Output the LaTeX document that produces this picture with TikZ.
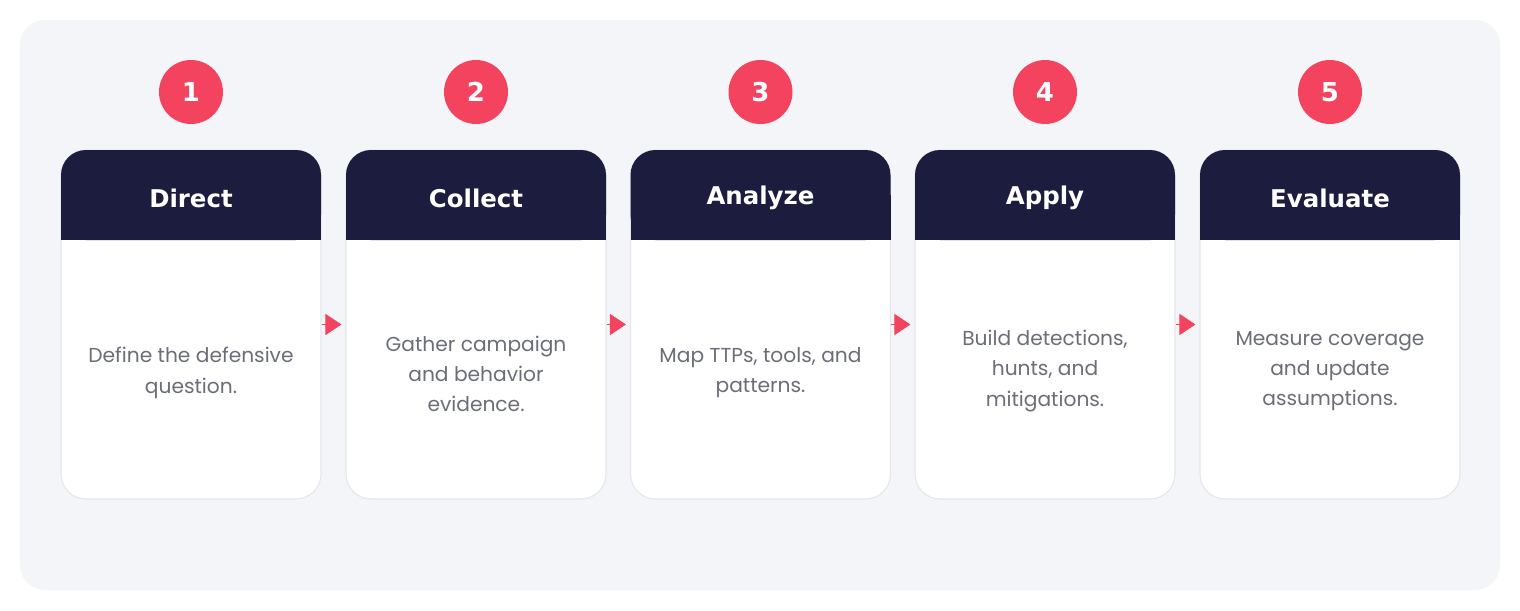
\documentclass[tikz,border=0pt]{standalone}
\usepackage{fontspec}
\setmainfont{DejaVu Sans}
\newfontfamily\bodyfont{Poppins}
\usetikzlibrary{arrows.meta}

\definecolor{panelbg}{HTML}{F4F5F9}
\definecolor{cardline}{HTML}{E4E6EB}
\definecolor{navy}{HTML}{1B1C3E}
\definecolor{rose}{HTML}{F4435F}
\definecolor{bodygray}{HTML}{6B6E78}

\begin{document}
\begin{tikzpicture}[
    card/.style={rectangle, draw=cardline, fill=white, line width=0.6pt, rounded corners=0.5cm, minimum width=5.2cm, minimum height=6.98cm},
    headbox/.style={rectangle, fill=navy, rounded corners=0.5cm, minimum width=5.2cm, minimum height=1.8cm},
    headtext/.style={text=white, font=\fontsize{13.9}{16}\selectfont\bfseries},
    badge/.style={circle, fill=rose, minimum size=1.28cm, inner sep=0pt, text=white, font=\fontsize{14.8}{16}\selectfont\bfseries},
    bodytext/.style={align=center, text=bodygray, font=\bodyfont\fontsize{11.5}{17.2}\selectfont},
    flow/.style={-{Triangle[length=0.32cm, width=0.42cm]}, draw=rose, fill=rose, line width=0.5pt, shorten >=0.08cm}
]
\useasboundingbox (0,0) rectangle (30.4,12.2);
\fill[white] (0,0) rectangle (30.4,12.2);

% Background panel
\fill[panelbg, rounded corners=0.5cm] (0.4,0.4) rectangle (30.0,11.8);

% Step 1: Direct
\node[card] (card1) at (3.82,5.71) {};
\fill[navy] (1.22,7.4) rectangle (6.42,8.3);
\node[headbox] (head1) at (3.82,8.3) {};
\node[headtext] (title1) at (3.82,8.24) {Direct};
\node[badge] (badge1) at (3.82,10.36) {1};
\node[bodytext] (text1) at (3.82,4.74) {Define the defensive\\question.};

% Step 2: Collect
\node[card] (card2) at (9.52,5.71) {};
\fill[navy] (6.92,7.4) rectangle (12.12,8.3);
\node[headbox] (head2) at (9.52,8.3) {};
\node[headtext] (title2) at (9.52,8.24) {Collect};
\node[badge] (badge2) at (9.52,10.36) {2};
\node[bodytext] (text2) at (9.52,4.72) {Gather campaign\\and behavior\\evidence.};

% Step 3: Analyze
\node[card] (card3) at (15.21,5.71) {};
\fill[navy] (12.61,7.4) rectangle (17.81,8.3);
\node[headbox] (head3) at (15.21,8.3) {};
\node[headtext] (title3) at (15.21,8.24) {Analyze};
\node[badge] (badge3) at (15.21,10.36) {3};
\node[bodytext] (text3) at (15.21,4.74) {Map TTPs, tools, and\\patterns.};

% Step 4: Apply
\node[card] (card4) at (20.9,5.71) {};
\fill[navy] (18.3,7.4) rectangle (23.5,8.3);
\node[headbox] (head4) at (20.9,8.3) {};
\node[headtext] (title4) at (20.9,8.24) {Apply};
\node[badge] (badge4) at (20.9,10.36) {4};
\node[bodytext] (text4) at (20.9,4.78) {Build detections,\\hunts, and\\mitigations.};

% Step 5: Evaluate
\node[card] (card5) at (26.6,5.71) {};
\fill[navy] (24.0,7.4) rectangle (29.2,8.3);
\node[headbox] (head5) at (26.6,8.3) {};
\node[headtext] (title5) at (26.6,8.24) {Evaluate};
\node[badge] (badge5) at (26.6,10.36) {5};
\node[bodytext] (text5) at (26.6,4.78) {Measure coverage\\and update\\assumptions.};

% Arrows
\draw[flow] (card1.east) -- (card2.west);
\draw[flow] (card2.east) -- (card3.west);
\draw[flow] (card3.east) -- (card4.west);
\draw[flow] (card4.east) -- (card5.west);

\end{tikzpicture}
\end{document}
